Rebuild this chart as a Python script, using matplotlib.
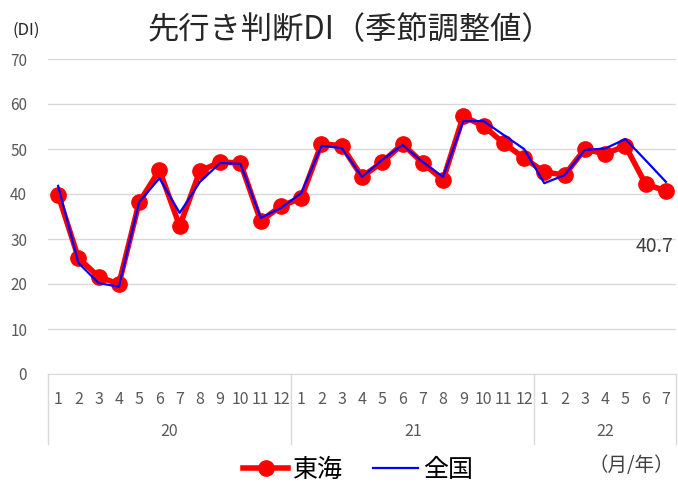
import matplotlib
matplotlib.use('Agg')
import matplotlib.pyplot as plt
import numpy as np

plt.rcParams['font.family'] = ['Noto Sans CJK JP', 'DejaVu Sans']

# data
years = ['20', '21', '22']
months = [list(range(1, 13)), list(range(1, 13)), list(range(1, 8))]
tokai = [39.8, 25.8, 21.6, 20.0, 38.2, 45.3, 32.9, 45.1, 47.1, 46.9, 34.0, 37.3,
         39.1, 51.2, 50.7, 43.8, 47.1, 51.1, 46.9, 43.1, 57.3, 55.1, 51.3, 48.0,
         44.9, 44.2, 50.0, 48.9, 50.7, 42.2, 40.7]
zenkoku = [41.8, 24.7, 20.2, 19.4, 38.2, 43.5, 35.8, 42.7, 46.9, 46.7, 34.7, 36.9,
           40.2, 50.7, 50.2, 43.8, 47.6, 50.9, 47.1, 43.8, 56.2, 56.2, 53.1, 50.0,
           42.4, 44.2, 49.8, 50.1, 52.2, 47.5, 42.7]

W, H = 678, 482
fig = plt.figure(figsize=(W / 100, H / 100), dpi=100)
ax = fig.add_axes([48 / W, (H - 374) / H, (676 - 48) / W, (374 - 59) / H])

x = np.arange(len(tokai))
ax.plot(x, tokai, color='#ff0000', lw=4, marker='o', ms=11, label='東海', zorder=3)
ax.plot(x, zenkoku, color='#0000ff', lw=1.6, label='全国', zorder=4)

ax.set_xlim(-0.5, len(tokai) - 0.5)
ax.set_ylim(0, 70)
ax.set_yticks(range(0, 71, 10))
ax.grid(axis='y', color='#d9d9d9', lw=1)
ax.set_axisbelow(True)
for s in ['top', 'right', 'left']:
    ax.spines[s].set_visible(False)
ax.spines['bottom'].set_color('#d9d9d9')
ax.tick_params(axis='y', length=0, labelsize=11, labelcolor='#595959', pad=15)
ax.set_xticks(x)
labels = [str(m) for ms_ in months for m in ms_]
ax.set_xticklabels(labels)
ax.tick_params(axis='x', length=0, labelsize=11.5, labelcolor='#595959', pad=12)

# year labels and separators
trans = ax.get_xaxis_transform()
start = 0
bounds = [-0.5]
for yr, ms_ in zip(years, months):
    end = start + len(ms_)
    ax.text((start + end - 1) / 2, -58 / 315, yr, transform=trans, ha='center',
            va='center', fontsize=11.5, color='#595959')
    bounds.append(end - 0.5)
    start = end
for b in bounds:
    ax.plot([b, b], [0, -70 / 315], transform=trans, color='#d9d9d9', lw=1,
            clip_on=False)

# data label on last point
ax.annotate('40.7', (x[-1], tokai[-1]), xytext=(-8, -40), textcoords='offset points',
            ha='center', va='center', fontsize=14, color='#404040')

fig.text(148 / W, 1 - 30 / H, '先行き判断DI（季節調整値）', fontsize=22.5, va='center',
         ha='left', color='#262626')
fig.text(12 / W, 1 - 30 / H, '(DI)', fontsize=12, va='center', ha='left', color='#262626')
fig.text(674 / W, 1 - 465 / H, '（月/年）', fontsize=14, va='center', ha='right', color='#404040')

fig.legend(loc='center', bbox_to_anchor=(358 / W, 1 - 470 / H), ncol=2, frameon=False,
           fontsize=18, handlelength=1.8, columnspacing=1.2, handletextpad=0.2)

fig.savefig('out.png', dpi=100)
